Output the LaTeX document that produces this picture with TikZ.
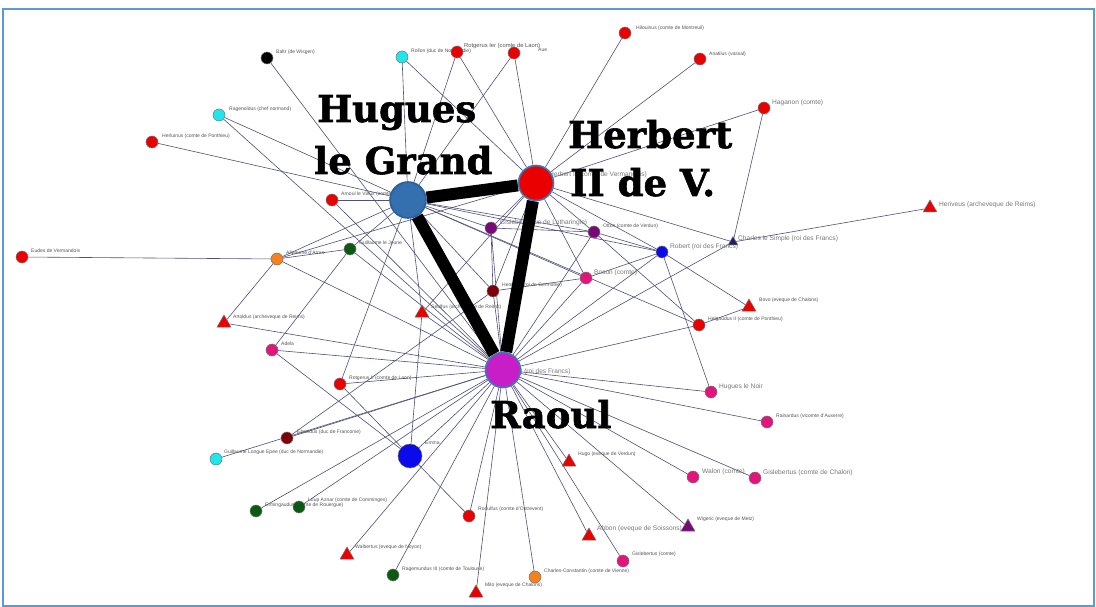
\documentclass[tikz,border=0pt]{standalone}
\usepackage{fontspec}
\setmainfont{Liberation Sans}
\newfontfamily\bigserif[BoldFeatures={FakeBold=1.6}]{DejaVu Serif}
\usetikzlibrary{shapes.geometric}
\pgfdeclarelayer{bg}
\pgfdeclarelayer{edges}
\pgfdeclarelayer{labels}
\pgfdeclarelayer{thick}
\pgfdeclarelayer{top}
\pgfsetlayers{bg,edges,labels,thick,main,top}
\definecolor{framecol}{RGB}{91,155,213}
\definecolor{edgecol}{RGB}{80,80,120}
\definecolor{labcol}{RGB}{85,85,85}
\definecolor{labmcol}{RGB}{120,120,120}
\definecolor{cred}{RGB}{235,0,0}
\definecolor{ccyan}{RGB}{30,230,235}
\definecolor{cpink}{RGB}{228,20,125}
\definecolor{cpurple}{RGB}{120,10,120}
\definecolor{cmaroon}{RGB}{125,0,10}
\definecolor{cgreen}{RGB}{10,90,20}
\definecolor{corange}{RGB}{245,130,30}
\definecolor{cblue}{RGB}{10,10,235}
\definecolor{cnavy}{RGB}{30,30,100}
\definecolor{csteel}{RGB}{52,112,176}
\definecolor{cmag}{RGB}{200,30,200}
\definecolor{cring}{RGB}{60,120,180}
\tikzset{
  vx/.style={circle, draw=black!55, line width=0.5pt, minimum size=12pt, inner sep=0pt},
  tx/.style={regular polygon, regular polygon sides=3, draw=black!55, line width=0.5pt, minimum size=16pt, inner sep=0pt},
  hub/.style={circle, draw=cring, line width=1.6pt, inner sep=0pt},
  thin/.style={draw=edgecol, line width=0.6pt},
  heavy/.style={draw=black, line width=12pt},
  labs/.style={font=\fontsize{5}{5}\selectfont, text=labcol, inner sep=0pt, anchor=west},
  labm/.style={font=\fontsize{6.6}{7}\selectfont, text=labmcol, inner sep=0pt, anchor=west},
  bigtxt/.style={font=\bigserif\bfseries\fontsize{37}{40}\selectfont, text=black, inner sep=0pt, anchor=base west}
}
\newcommand\vlab[5]{%
  \begin{pgfonlayer}{labels}
  \node[#2] (#1-lab) at ([shift={(#3,#4)}]#1.center) {#5};
  \end{pgfonlayer}}
\begin{document}
\begin{tikzpicture}[x=1pt,y=-1pt]
\useasboundingbox (0,0) rectangle (1096,607);
\begin{pgfonlayer}{bg}
\fill[white] (0,0) rectangle (1096,607);
\draw[framecol, line width=2pt] (3,9) rectangle (1094,606);
\end{pgfonlayer}

% nodes
\node[vx, fill=black]   (BT) at (267,58) {};
\node[vx, fill=ccyan]   (RL) at (402,57) {};
\node[vx, fill=cred]    (RI) at (457,52) {};
\node[vx, fill=cred]    (AU) at (514,53) {};
\node[vx, fill=cred]    (HO) at (625,33) {};
\node[vx, fill=cred]    (AT) at (700,59) {};
\node[vx, fill=cred]    (HA) at (764,108) {};
\node[vx, fill=ccyan]   (RG) at (219,115) {};
\node[vx, fill=cred]    (HL) at (152,142) {};
\node[vx, fill=cred]    (AN) at (332,200) {};
\node[tx, fill=cred]    (HV) at (930,208) {};
\node[tx, fill=cnavy, minimum size=11pt] (CH) at (733,242) {};
\node[vx, fill=cblue]   (RB) at (662,252) {};
\node[vx, fill=cpurple] (OT) at (594,232) {};
\node[vx, fill=cpurple] (GB) at (491,228) {};
\node[vx, fill=cpink]   (BO) at (586,278) {};
\node[vx, fill=cmaroon] (HI) at (493,291) {};
\node[tx, fill=cred]    (SE) at (422,313) {};
\node[vx, fill=cgreen]  (GJ) at (350,249) {};
\node[vx, fill=corange] (AL) at (277,259) {};
\node[vx, fill=cred]    (EU) at (22,257) {};
\node[tx, fill=cred]    (AR) at (224,323) {};
\node[vx, fill=cpink]   (AD) at (272,350) {};
\node[vx, fill=cred]    (R2) at (340,384) {};
\node[tx, fill=cred]    (BV) at (749,307) {};
\node[vx, fill=cred]    (HE) at (699,325) {};
\node[vx, fill=cpink]   (HN) at (711,392) {};
\node[vx, fill=cpink]   (RN) at (767,422) {};
\node[vx, fill=cmaroon] (EB) at (287,438) {};
\node[vx, fill=ccyan]   (GL) at (216,459) {};
\node[vx, fill=cgreen]  (ER) at (256,511) {};
\node[vx, fill=cgreen]  (LA) at (299,507) {};
\node[vx, fill=cred]    (RO) at (469,516) {};
\node[tx, fill=cred]    (HG) at (569,462) {};
\node[vx, fill=cpink]   (WA) at (693,477) {};
\node[vx, fill=cpink]   (GS) at (755,478) {};
\node[tx, fill=cpurple] (WG) at (688,527) {};
\node[tx, fill=cred]    (AB) at (589,536) {};
\node[vx, fill=cpink]   (GC) at (623,561) {};
\node[vx, fill=corange] (CC) at (535,577) {};
\node[tx, fill=cred]    (MI) at (476,593) {};
\node[vx, fill=cgreen]  (RM) at (393,575) {};
\node[tx, fill=cred]    (WB) at (347,555) {};
\node[circle, draw=black!60, line width=0.5pt, fill=cblue, minimum size=24pt, inner sep=0pt] (EM) at (410,456) {};
\node[hub, fill=csteel, draw=csteel!85!black, minimum size=36pt] (HU) at (408,200) {};
\node[hub, fill=cred, minimum size=35pt] (HB) at (536,183) {};
\node[hub, fill=cmag, minimum size=35pt] (RA) at (503,370) {};

% labels
\vlab{BT}{labs}{9}{-6}{Baltr (de Wisgen)}
\vlab{RL}{labs}{9}{-6}{Rollon (duc de Normandie)}
\vlab{RI}{labs, font=\fontsize{5.8}{6}\selectfont}{7}{-6}{Rotgerus Ier (comte de Laon)}
\vlab{AU}{labs}{24}{-3}{Aue}
\vlab{HO}{labs}{11}{-5}{Hilouinus (comte de Montreuil)}
\vlab{AT}{labs}{9}{-5}{Anatilus (vassal)}
\vlab{HA}{labm}{8}{-5}{Haganon (comte)}
\vlab{RG}{labs}{10}{-6}{Ragenoldus (chef normand)}
\vlab{HL}{labs}{10}{-6}{Herluinus (comte de Ponthieu)}
\vlab{AN}{labs}{9}{-6}{Arnoul le Vieux (comte de Flandre)}
\vlab{HV}{labm}{9}{-3}{Heriveus (archeveque de Reims)}
\vlab{CH}{labm}{5}{-3}{Charles le Simple (roi des Francs)}
\vlab{RB}{labm}{8}{-5}{Robert (roi des Francs)}
\vlab{OT}{labs}{9}{-6}{Otton (comte de Verdun)}
\vlab{GB}{labm}{9}{-5}{Gislebert (duc de Lotharingie)}
\vlab{BO}{labm}{8}{-5}{Boson (comte)}
\vlab{HI}{labs}{9}{-6}{Henri Ier (roi de Germanie)}
\vlab{SE}{labs}{9}{-6}{Seulfus (archeveque de Reims)}
\vlab{GJ}{labs}{9}{-6}{Guillaume le Jeune}
\vlab{AL}{labs}{9}{-6}{Alleaume d'Arras}
\vlab{EU}{labs}{9}{-6}{Eudes de Vermandois}
\vlab{AR}{labs}{9}{-6}{Artoldus (archeveque de Reims)}
\vlab{AD}{labs}{9}{-6}{Adela}
\vlab{R2}{labs}{9}{-6}{Rotgerus II (comte de Laon)}
\vlab{BV}{labs}{10}{-7}{Bovo (eveque de Chalons)}
\vlab{HE}{labs}{9}{-6}{Helgaudus II (comte de Ponthieu)}
\vlab{HN}{labm}{8}{-5}{Hugues le Noir}
\vlab{RN}{labs}{9}{-6}{Rainardus (vicomte d'Auxerre)}
\vlab{EB}{labs}{10}{-6}{Ebrardus (duc de Franconie)}
\vlab{GL}{labs}{8}{-7}{Guillaume Longue Epee (duc de Normandie)}
\vlab{ER}{labs}{9}{-6}{Ermingaudus (comte de Rouergue)}
\vlab{LA}{labs}{9}{-7}{Loup Aznar (comte de Comminges)}
\vlab{RO}{labs}{9}{-7}{Rodulfus (comte d'Ostrevent)}
\vlab{HG}{labs}{9}{-8}{Hugo (eveque de Verdun)}
\vlab{WA}{labm}{9}{-5}{Walon (comte)}
\vlab{GS}{labm}{8}{-5}{Gislebertus (comte de Chalon)}
\vlab{WG}{labs}{9}{-8}{Wigeric (eveque de Metz)}
\vlab{AB}{labm}{8}{-7}{Abbon (eveque de Soissons)}
\vlab{GC}{labs}{9}{-7}{Gislebertus (comte)}
\vlab{CC}{labs}{9}{-6}{Charles-Constantin (comte de Vienne)}
\vlab{MI}{labs}{9}{-8}{Milo (eveque de Chalons)}
\vlab{RM}{labs}{9}{-6}{Ragemundus III (comte de Toulouse)}
\vlab{WB}{labs}{8}{-8}{Walbertus (eveque de Noyon)}
\vlab{EM}{labs}{15}{-13}{Emma}
\vlab{HB}{labm}{13}{-8}{Herbert II (comte de Vermandois)}
\vlab{RA}{labm}{2}{2}{Raoul (roi des Francs)}

% thin connectors
\begin{pgfonlayer}{edges}
\foreach \a/\b in {RA/BT,RA/RG,RA/AN,RA/GJ,RA/AL,RA/AR,RA/AD,RA/R2,RA/EB,RA/GL,RA/ER,RA/LA,RA/WB,RA/RM,RA/EM,RA/RO,RA/MI,RA/CC,RA/AB,RA/GC,RA/HG,RA/WG,RA/WA,RA/GS,RA/RN,RA/HN,RA/HE,RA/RB,RA/OT,RA/BO,RA/HI,RA/GB,RA/SE,RA/CH,
  HU/RL,HU/RI,HU/AU,HU/RG,HU/HL,HU/AN,HU/GJ,HU/AL,HU/R2,HU/SE,HU/GB,HU/OT,HU/RB,HU/BO,HU/HI,HU/HE,
  HB/RL,HB/RI,HB/AU,HB/HO,HB/AT,HB/HA,HB/CH,HB/RB,HB/OT,HB/GB,HB/BO,HB/HI,HB/SE,HB/AL,
  HA/CH,HV/CH,EU/AL,AL/AR,AL/GJ,AD/GJ,GB/HI,RB/BV,BV/HE,RB/HN,OT/HE,EM/SE,EM/R2,EM/RO,EM/AD,OT/RB,BO/RB,BO/HI,GB/OT,EB/HI}
  \draw[thin] (\a) -- (\b);
\end{pgfonlayer}

% heavy connectors
\begin{pgfonlayer}{thick}
\draw[heavy] (HU) -- (HB);
\draw[heavy] (HU) -- (RA);
\draw[heavy] (HB) -- (RA);
\end{pgfonlayer}

% big names
\begin{pgfonlayer}{top}
\node[bigtxt] (T1) at (317,122) {Hugues};
\node[bigtxt] (T2) at (314,174) {le Grand};
\node[bigtxt] (T3) at (568,148) {Herbert};
\node[bigtxt] (T4) at (570,196) {II de V.};
\node[bigtxt] (T5) at (490,428) {Raoul};
\end{pgfonlayer}
\end{tikzpicture}
\end{document}
